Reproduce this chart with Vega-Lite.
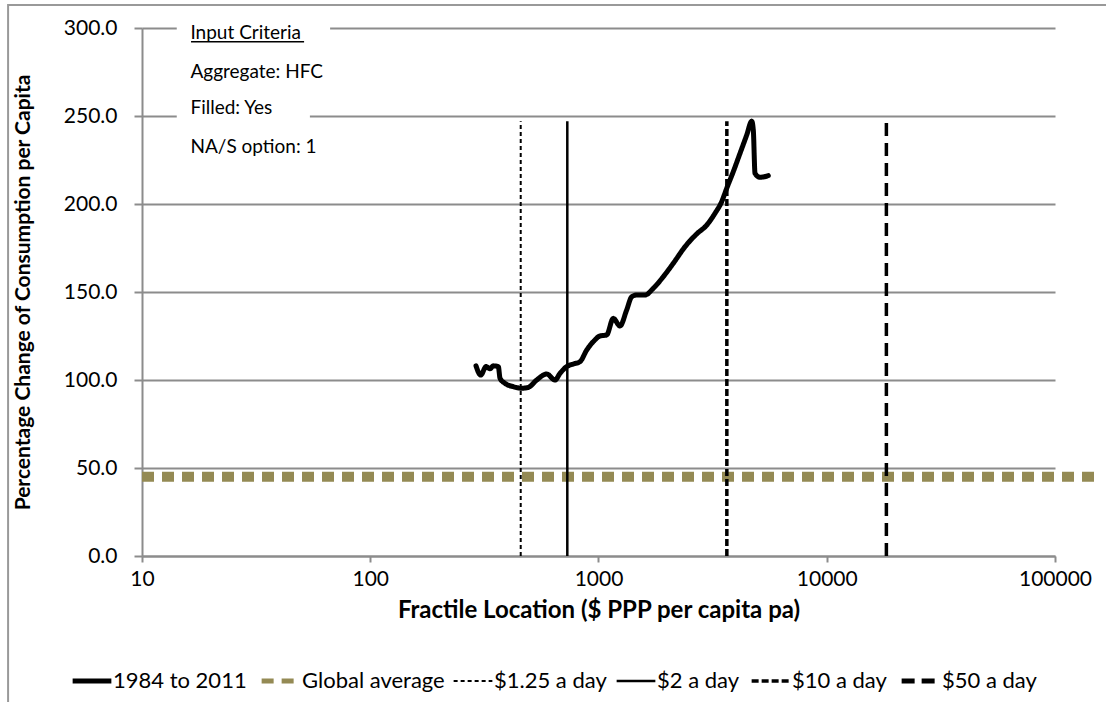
{
  "$schema": "https://vega.github.io/schema/vega-lite/v6.json",
  "autosize": {"type": "none"},
  "width": 913,
  "height": 528,
  "padding": {"left": 142, "top": 28, "right": 51, "bottom": 146},
  "background": "white",
  "datasets": {
    "curve": [
      {"series": "1984 to 2011", "x": 290.6, "y": 108.0},
      {"series": "1984 to 2011", "x": 304.8, "y": 102.8},
      {"series": "1984 to 2011", "x": 321.6, "y": 107.6},
      {"series": "1984 to 2011", "x": 334.8, "y": 106.4},
      {"series": "1984 to 2011", "x": 346.1, "y": 108.0},
      {"series": "1984 to 2011", "x": 364.0, "y": 107.6},
      {"series": "1984 to 2011", "x": 370.3, "y": 101.0},
      {"series": "1984 to 2011", "x": 389.5, "y": 98.1},
      {"series": "1984 to 2011", "x": 423.5, "y": 96.2},
      {"series": "1984 to 2011", "x": 460.8, "y": 95.3},
      {"series": "1984 to 2011", "x": 492.6, "y": 95.8},
      {"series": "1984 to 2011", "x": 536.2, "y": 100.0},
      {"series": "1984 to 2011", "x": 593.1, "y": 103.4},
      {"series": "1984 to 2011", "x": 644.9, "y": 100.0},
      {"series": "1984 to 2011", "x": 678.3, "y": 103.8},
      {"series": "1984 to 2011", "x": 725.5, "y": 107.6},
      {"series": "1984 to 2011", "x": 775.4, "y": 109.1},
      {"series": "1984 to 2011", "x": 829.6, "y": 110.4},
      {"series": "1984 to 2011", "x": 887.8, "y": 117.0},
      {"series": "1984 to 2011", "x": 948.9, "y": 121.8},
      {"series": "1984 to 2011", "x": 1015, "y": 125.0},
      {"series": "1984 to 2011", "x": 1086, "y": 125.6},
      {"series": "1984 to 2011", "x": 1161, "y": 135.0},
      {"series": "1984 to 2011", "x": 1242, "y": 130.7},
      {"series": "1984 to 2011", "x": 1329, "y": 139.8},
      {"series": "1984 to 2011", "x": 1398, "y": 147.3},
      {"series": "1984 to 2011", "x": 1470, "y": 148.3},
      {"series": "1984 to 2011", "x": 1598, "y": 148.3},
      {"series": "1984 to 2011", "x": 1739, "y": 152.1},
      {"series": "1984 to 2011", "x": 1923, "y": 158.7},
      {"series": "1984 to 2011", "x": 2127, "y": 166.3},
      {"series": "1984 to 2011", "x": 2393, "y": 175.7},
      {"series": "1984 to 2011", "x": 2693, "y": 183.0},
      {"series": "1984 to 2011", "x": 2979, "y": 188.0},
      {"series": "1984 to 2011", "x": 3239, "y": 194.7},
      {"series": "1984 to 2011", "x": 3465, "y": 201.3},
      {"series": "1984 to 2011", "x": 3645, "y": 208.9},
      {"series": "1984 to 2011", "x": 3896, "y": 218.4},
      {"series": "1984 to 2011", "x": 4169, "y": 228.8},
      {"series": "1984 to 2011", "x": 4461, "y": 239.2},
      {"series": "1984 to 2011", "x": 4691, "y": 247.0},
      {"series": "1984 to 2011", "x": 4767, "y": 242.0},
      {"series": "1984 to 2011", "x": 4850, "y": 217.4},
      {"series": "1984 to 2011", "x": 5101, "y": 215.2},
      {"series": "1984 to 2011", "x": 5546, "y": 216.1}
    ],
    "average": [
      {"series": "Global average", "x": 10, "y": 45},
      {"series": "Global average", "x": 160000, "y": 45}
    ],
    "thresholds": [
      {"series": "$1.25 a day", "x": 456.25, "y": 0, "y2": 247},
      {"series": "$2 a day", "x": 730, "y": 0, "y2": 247},
      {"series": "$10 a day", "x": 3650, "y": 0, "y2": 247},
      {"series": "$50 a day", "x": 18250, "y": 0, "y2": 247}
    ],
    "notes": [
      {"label": "Input Criteria", "x": 16.3, "y": 297.2},
      {"label": "Aggregate: HFC", "x": 16.3, "y": 275.2},
      {"label": "Filled: Yes", "x": 16.3, "y": 254.4},
      {"label": "NA/S option: 1", "x": 16.3, "y": 232.6}
    ],
    "noteBoxes": [
      {"x": 14.2, "x2": 66.7, "y": 295.5, "y2": 304.5},
      {"x": 14.2, "x2": 54.4, "y": 245.5, "y2": 254.5}
    ]
  },
  "config": {
    "view": {"stroke": null},
    "font": "Lato",
    "axis": {
      "labelFont": "Lato",
      "labelFontSize": 21,
      "labelColor": "#000000",
      "titleFont": "Lato",
      "titleColor": "#000000",
      "titleFontWeight": "bold",
      "domainColor": "#8c8c8c",
      "domainWidth": 2,
      "tickColor": "#8c8c8c",
      "tickWidth": 2,
      "gridColor": "#8c8c8c",
      "gridWidth": 2
    },
    "legend": {
      "labelFont": "Lato",
      "labelFontSize": 22,
      "labelColor": "#000000"
    }
  },
  "encoding": {
    "x": {
      "type": "quantitative",
      "scale": {"type": "log", "domain": [10, 100000], "nice": false},
      "axis": {
        "values": [10, 100, 1000, 10000, 100000],
        "format": "d",
        "grid": false,
        "labelFlush": false,
        "tickSize": 6,
        "labelPadding": 6,
        "title": "Fractile Location ($ PPP per capita pa)",
        "titleFontSize": 24,
        "titlePadding": 9
      }
    },
    "y": {
      "type": "quantitative",
      "scale": {"domain": [0, 300], "nice": false, "zero": false},
      "axis": {
        "values": [0, 50, 100, 150, 200, 250, 300],
        "format": ".1f",
        "grid": true,
        "labelFlush": false,
        "tickSize": 8,
        "labelPadding": 17,
        "title": "Percentage Change of Consumption per Capita",
        "titleFontSize": 21,
        "titlePadding": 30
      }
    }
  },
  "layer": [
    {
      "data": {"values": [{}]},
      "mark": {"type": "rect", "fill": null, "stroke": "#999999", "strokeWidth": 2},
      "encoding": {
        "x": {"datum": 2.59},
        "x2": {"datum": 10000000},
        "y": {"datum": 313},
        "y2": {"datum": -200}
      }
    },
    {
      "data": {"name": "noteBoxes"},
      "mark": {"type": "rect", "fill": "white", "stroke": null},
      "encoding": {
        "x": {"field": "x"},
        "x2": {"field": "x2"},
        "y": {"field": "y"},
        "y2": {"field": "y2"}
      }
    },
    {
      "data": {"name": "average"},
      "mark": {"type": "line", "strokeCap": "butt", "strokeWidth": 10},
      "encoding": {
        "x": {"field": "x"},
        "y": {"field": "y"},
        "color": {"field": "series", "type": "nominal"},
        "strokeDash": {"field": "series", "type": "nominal"}
      }
    },
    {
      "data": {"name": "thresholds"},
      "mark": {"type": "rule", "strokeCap": "butt"},
      "encoding": {
        "x": {"field": "x"},
        "y": {"field": "y"},
        "y2": {"field": "y2"},
        "color": {"field": "series", "type": "nominal"},
        "strokeDash": {"field": "series", "type": "nominal"},
        "strokeWidth": {
          "condition": [
            {"test": "datum.series === '$1.25 a day'", "value": 2},
            {"test": "datum.series === '$2 a day'", "value": 2.5}
          ],
          "value": 3.5
        }
      }
    },
    {
      "data": {"name": "curve"},
      "mark": {"type": "line", "interpolate": "monotone", "strokeCap": "round", "strokeJoin": "round", "strokeWidth": 5},
      "encoding": {
        "x": {"field": "x"},
        "y": {"field": "y"},
        "color": {
          "field": "series",
          "type": "nominal",
          "scale": {
            "domain": ["1984 to 2011", "Global average", "$1.25 a day", "$2 a day", "$10 a day", "$50 a day"],
            "range": ["#000000", "#948A54", "#000000", "#000000", "#000000", "#000000"]
          },
          "legend": {
            "title": null,
            "orient": "none",
            "legendX": -61,
            "legendY": 642,
            "direction": "horizontal",
            "symbolType": "stroke",
            "symbolSize": 1500,
            "columnPadding": 4,
            "labelOffset": 10,
            "padding": 0,
            "encode": {
              "symbols": {
                "update": {
                  "strokeWidth": {"signal": "datum.value === '1984 to 2011' || datum.value === 'Global average' || datum.value === '$50 a day' ? 5 : datum.value === '$10 a day' ? 3.5 : datum.value === '$2 a day' ? 2.5 : 2"}
                }
              }
            }
          }
        },
        "strokeDash": {
          "field": "series",
          "type": "nominal",
          "scale": {
            "type": "ordinal",
            "domain": ["1984 to 2011", "Global average", "$1.25 a day", "$2 a day", "$10 a day", "$50 a day"],
            "range": [[1, 0], [12, 8], [4, 3], [1, 0], [7, 3], [13, 7]]
          }
        }
      }
    },
    {
      "data": {"name": "notes"},
      "mark": {"type": "text", "align": "left", "baseline": "middle", "font": "Lato", "fontSize": 19, "color": "#000000"},
      "encoding": {
        "x": {"field": "x"},
        "y": {"field": "y"},
        "text": {"field": "label"}
      }
    },
    {
      "data": {"values": [{}]},
      "mark": {"type": "rule", "color": "#000000", "strokeWidth": 1.5},
      "encoding": {
        "x": {"datum": 16.4},
        "x2": {"datum": 51.3},
        "y": {"datum": 292.2}
      }
    }
  ]
}
